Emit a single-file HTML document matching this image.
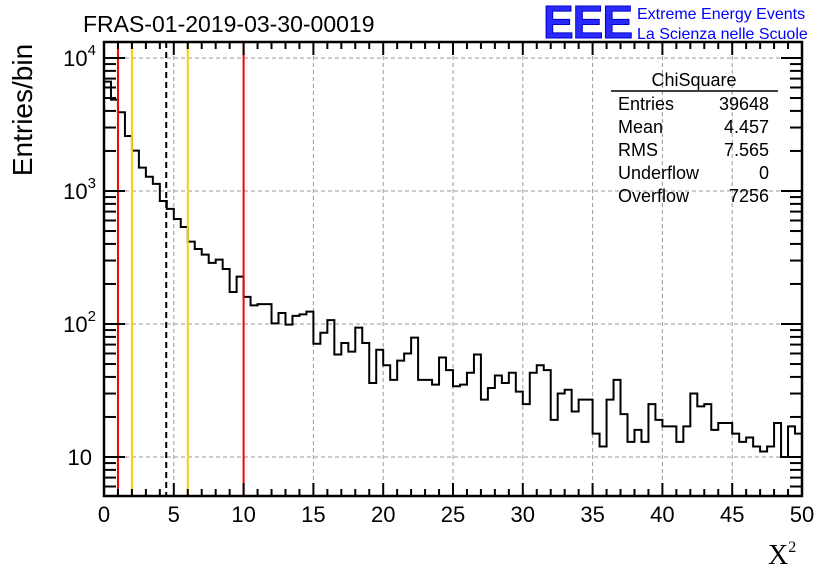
<!DOCTYPE html>
<html><head><meta charset="utf-8"><style>
body{margin:0;background:#fff;}
svg{display:block;font-family:"Liberation Sans",sans-serif;}
</style></head><body>
<svg id="chart" width="836" height="572">
<rect width="836" height="572" fill="#fff"/>
<g id="grid"></g>
<g id="hist"></g>
<g id="lines"></g>
<rect x="104" y="42" width="698" height="454" fill="none" stroke="#000" stroke-width="2.5"/>
<g id="ticks"></g>
<text x="83" y="32" font-size="23">FRAS-01-2019-03-30-00019</text>
<g>
<text x="543" y="38" font-size="46" font-weight="bold" fill="#2a2aff" stroke="#0000cc" stroke-width="1" letter-spacing="-1">EEE</text>
<text x="637" y="19" font-size="16" fill="#0000ff">Extreme Energy Events</text>
<text x="637" y="39" font-size="16" fill="#0000ff">La Scienza nelle Scuole</text>
</g>
<text transform="translate(32,110) rotate(-90)" text-anchor="middle" font-size="28">Entries/bin</text>
<text x="768" y="564" font-size="28" font-family="Liberation Serif,serif">X<tspan font-size="16" dy="-12">2</tspan></text>
<g>
<text x="694" y="86" text-anchor="middle" font-size="18">ChiSquare</text>
<line x1="611" y1="91" x2="778" y2="91" stroke="#000" stroke-width="1.5"/>
<text x="618" y="110" font-size="18">Entries</text><text x="769" y="110" font-size="18" text-anchor="end">39648</text>
<text x="618" y="133" font-size="18">Mean</text><text x="769" y="133" font-size="18" text-anchor="end">4.457</text>
<text x="618" y="156" font-size="18">RMS</text><text x="769" y="156" font-size="18" text-anchor="end">7.565</text>
<text x="618" y="179" font-size="18">Underflow</text><text x="769" y="179" font-size="18" text-anchor="end">0</text>
<text x="618" y="202" font-size="18">Overflow</text><text x="769" y="202" font-size="18" text-anchor="end">7256</text>
</g>
</svg>
<script>
const binEdgesMin = 0, binEdgesMax = 50;
const counts = [6640,4860,3910,2590,2010,1500,1280,1130,841,733,616,536,416,366,332,288,305,259,174,227,160,138,141,141,101,121,99,115,118,124,71,86,107,59,72,62,94,72,36,64,49,38,53,60,79,38,38,35,56,45,34,35,43,59,27,33,41,36,43,31,25,43,49,45,19,30,32,22,27,27,15,12,27,38,21,13,16,13,25,19,17,17,13,17,30,24,25,16,18,18,15,13,14,12,11,12,18,10,17,15];
const xTicks = [0,5,10,15,20,25,30,35,40,45,50];
const yDecades = [1,2,3,4];
const redLines = [1,10];
const orangeLines = [2,6];
const meanLine = [4.457];
const L=104,R=802,T=42,B=496, yMin=5.09, yMax=13190;
const X=v=>L+(v-binEdgesMin)/(binEdgesMax-binEdgesMin)*(R-L);
const Y=v=>B-(Math.log10(v)-Math.log10(yMin))/(Math.log10(yMax)-Math.log10(yMin))*(B-T);
const NS="http://www.w3.org/2000/svg";
function mk(tag,parent,attrs){const e=document.createElementNS(NS,tag);for(const k in attrs)e.setAttribute(k,attrs[k]);parent.appendChild(e);return e;}
const grid=document.getElementById('grid'),hist=document.getElementById('hist'),lines=document.getElementById('lines'),ticks=document.getElementById('ticks'),svg=document.getElementById('chart');
xTicks.forEach(t=>{if(t>0&&t<50){const g=mk('line',grid,{x1:X(t),x2:X(t),y1:T,y2:B,stroke:'#999','stroke-dasharray':'4,3'});

}});
yDecades.forEach(d=>{const g=mk('line',grid,{x1:L,x2:R,y1:Y(Math.pow(10,d)),y2:Y(Math.pow(10,d)),stroke:'#999','stroke-dasharray':'4,3'});

});
const w=(binEdgesMax-binEdgesMin)/counts.length;
let d='M'+X(0)+','+B;
counts.forEach((c,i)=>{d+=' L'+X(i*w)+','+Y(c)+' L'+X((i+1)*w)+','+Y(c);});
d+=' L'+X(50)+','+B;
const p=mk('path',hist,{d:d,fill:'none',stroke:'#000','stroke-width':2});


function vline(v,col,dash,name){const l=mk('line',lines,{x1:X(v),x2:X(v),y1:T,y2:B,stroke:col,'stroke-width':2});if(dash)l.setAttribute('stroke-dasharray',dash);

}
redLines.forEach(v=>vline(v,'#ff0000',null,'red-cut-line'));
orangeLines.forEach(v=>vline(v,'#ffcc00',null,'orange-cut-line'));
meanLine.forEach(v=>vline(v,'#000',"6,4",'mean-line'));
for(let t=0;t<=50;t++){const len=(t%5==0)?13:7;
mk('line',ticks,{x1:X(t),x2:X(t),y1:B,y2:B-len,stroke:'#000','stroke-width':2});
mk('line',ticks,{x1:X(t),x2:X(t),y1:T,y2:T+len,stroke:'#000','stroke-width':2});}
xTicks.forEach(t=>{const tx=mk('text',svg,{x:X(t),y:522,'text-anchor':'middle','font-size':22});tx.textContent=t;

});
for(let dd=0;dd<=4;dd++){for(let m=1;m<=9;m++){const v=m*Math.pow(10,dd);if(v<yMin||v>yMax)continue;const len=m==1?21:12;
mk('line',ticks,{x1:L,x2:L+len,y1:Y(v),y2:Y(v),stroke:'#000','stroke-width':2});
mk('line',ticks,{x1:R,x2:R-len,y1:Y(v),y2:Y(v),stroke:'#000','stroke-width':2});}}
yDecades.forEach(dd=>{const tx=mk('text',svg,{x:dd==1?92:96,y:Y(Math.pow(10,dd))+8,'text-anchor':'end','font-size':22});
if(dd==1){tx.textContent='10';}else{tx.textContent='10';const ts=mk('tspan',tx,{'font-size':15,dy:-11});ts.textContent=dd;}

});
</script>
</body></html>
